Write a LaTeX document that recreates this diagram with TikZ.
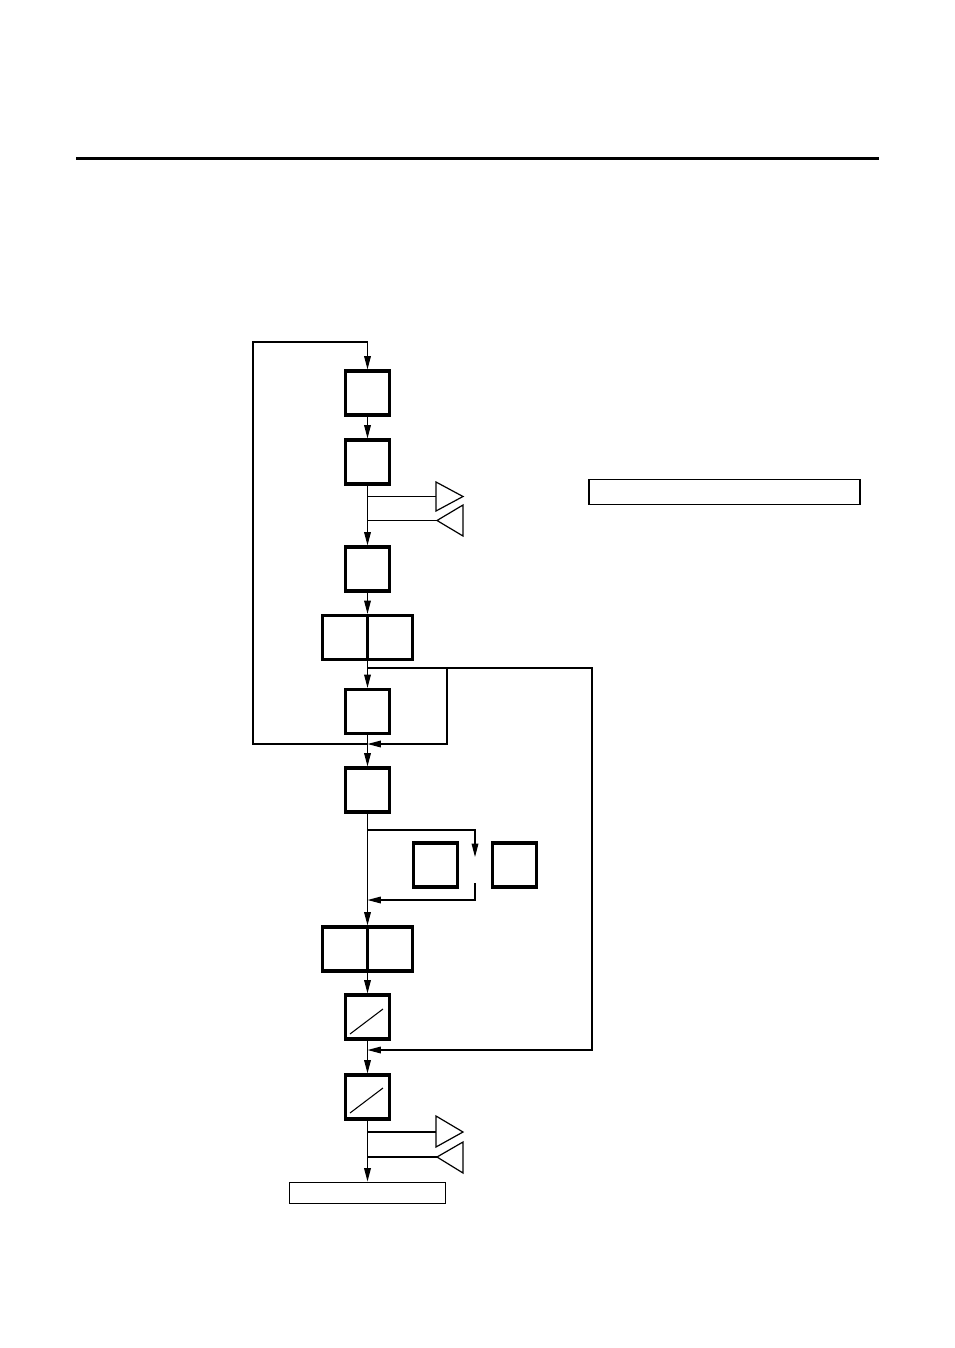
\documentclass[tikz,border=0pt]{standalone}
\usetikzlibrary{arrows.meta}
\begin{document}
\begin{tikzpicture}[x=0.75pt,y=-0.75pt,
  box/.style={draw,line width=2.4pt,minimum width=33pt,minimum height=33pt,inner sep=0pt},
  dbox/.style={box,minimum width=67pt},
  thinbox/.style={draw,line width=1.2pt,inner sep=0pt},
  con/.style={line width=0.9pt},
  arr/.style={con,-{Triangle[length=10pt,width=5pt]}},
  tri/.style={line width=0.9pt,line join=miter},
  slash/.style={line width=0.8pt}]
\useasboundingbox[fill=white] (0,0) rectangle (954,1348);
% top rule
\draw[line width=2.4pt] (76,158.5) -- (879,158.5);
% boxes
\node[box] (A) at (367.5,393) {};
\node[box] (B) at (367.5,462) {};
\node[box] (C) at (367.5,569) {};
\node[dbox] (D) at (367.5,637.5) {};
\node[box] (E) at (367.5,711.5) {};
\node[box] (F) at (367.5,790) {};
\node[box] (G) at (435.5,865) {};
\node[box] (H) at (514.5,865) {};
\node[dbox] (I) at (367.5,949) {};
\node[box] (J) at (367.5,1017) {};
\node[box] (K) at (367.5,1097) {};
\node[thinbox,minimum width=117pt,minimum height=16pt] (L) at (367.5,1193) {};
\node[thinbox,minimum width=203pt,minimum height=18.5pt] (R) at (724.5,492) {};
% dividers and slashes
\draw[line width=2.4pt] (D.north) -- (D.south);
\draw[line width=2.4pt] (I.north) -- (I.south);
\draw[slash] (350,1034) -- (383,1009);
\draw[slash] (350,1113) -- (383,1088);
% junction coordinates
\coordinate (j1) at (367.5,744);
\coordinate (j2) at (367.5,668);
\coordinate (j3) at (367.5,1050);
\coordinate (j4) at (367.5,830);
\coordinate (j5) at (367.5,900);
\coordinate (b1) at (367.5,496.5);
\coordinate (b2) at (367.5,520.5);
\coordinate (b3) at (367.5,1132);
\coordinate (b4) at (367.5,1157);
\coordinate (t1) at (436,496.5);
\coordinate (t2) at (437,520.5);
\coordinate (t3) at (436,1132);
\coordinate (t4) at (437,1157);
\coordinate (g1) at (475,830);
\coordinate (g2) at (475,857);
\coordinate (g3) at (475,883);
\coordinate (g4) at (475,900);
% main flow
\draw[arr] (A) -- (B);
\draw[arr] (B) -- (C);
\draw[arr] (C) -- (D);
\draw[arr] (D) -- (E);
\draw[arr] (E) -- (F);
\draw[arr] (F) -- (I);
\draw[arr] (I) -- (J);
\draw[arr] (J) -- (K);
\draw[arr] (K) -- (L);
% left loop back to top
\draw[arr] (j1) -- (253,744) -- (253,342) -- (367.5,342) -- (A);
% inner right loop
\draw[arr] (j2) -- (447,668) -- (447,744) -- (j1);
% outer right loop
\draw[arr] (j2) -- (592,668) -- (592,1050) -- (j3);
% branch around G/H
\draw[arr] (j4) -- (g1) -- (g2);
\draw[arr] (g3) -- (g4) -- (j5);
% side branches with triangles
\draw[con] (b1) -- (t1);
\draw[con] (b2) -- (t2);
\draw[con] (b3) -- (t3);
\draw[con] (b4) -- (t4);
\draw[tri] (t1) -- (436,482) -- (463,496.5) -- (436,511) -- cycle;
\draw[tri] (t2) -- (463,505) -- (463,536) -- cycle;
\draw[tri] (t3) -- (436,1116) -- (463,1132) -- (436,1147) -- cycle;
\draw[tri] (t4) -- (463,1142) -- (463,1173) -- cycle;
\end{tikzpicture}
\end{document}
